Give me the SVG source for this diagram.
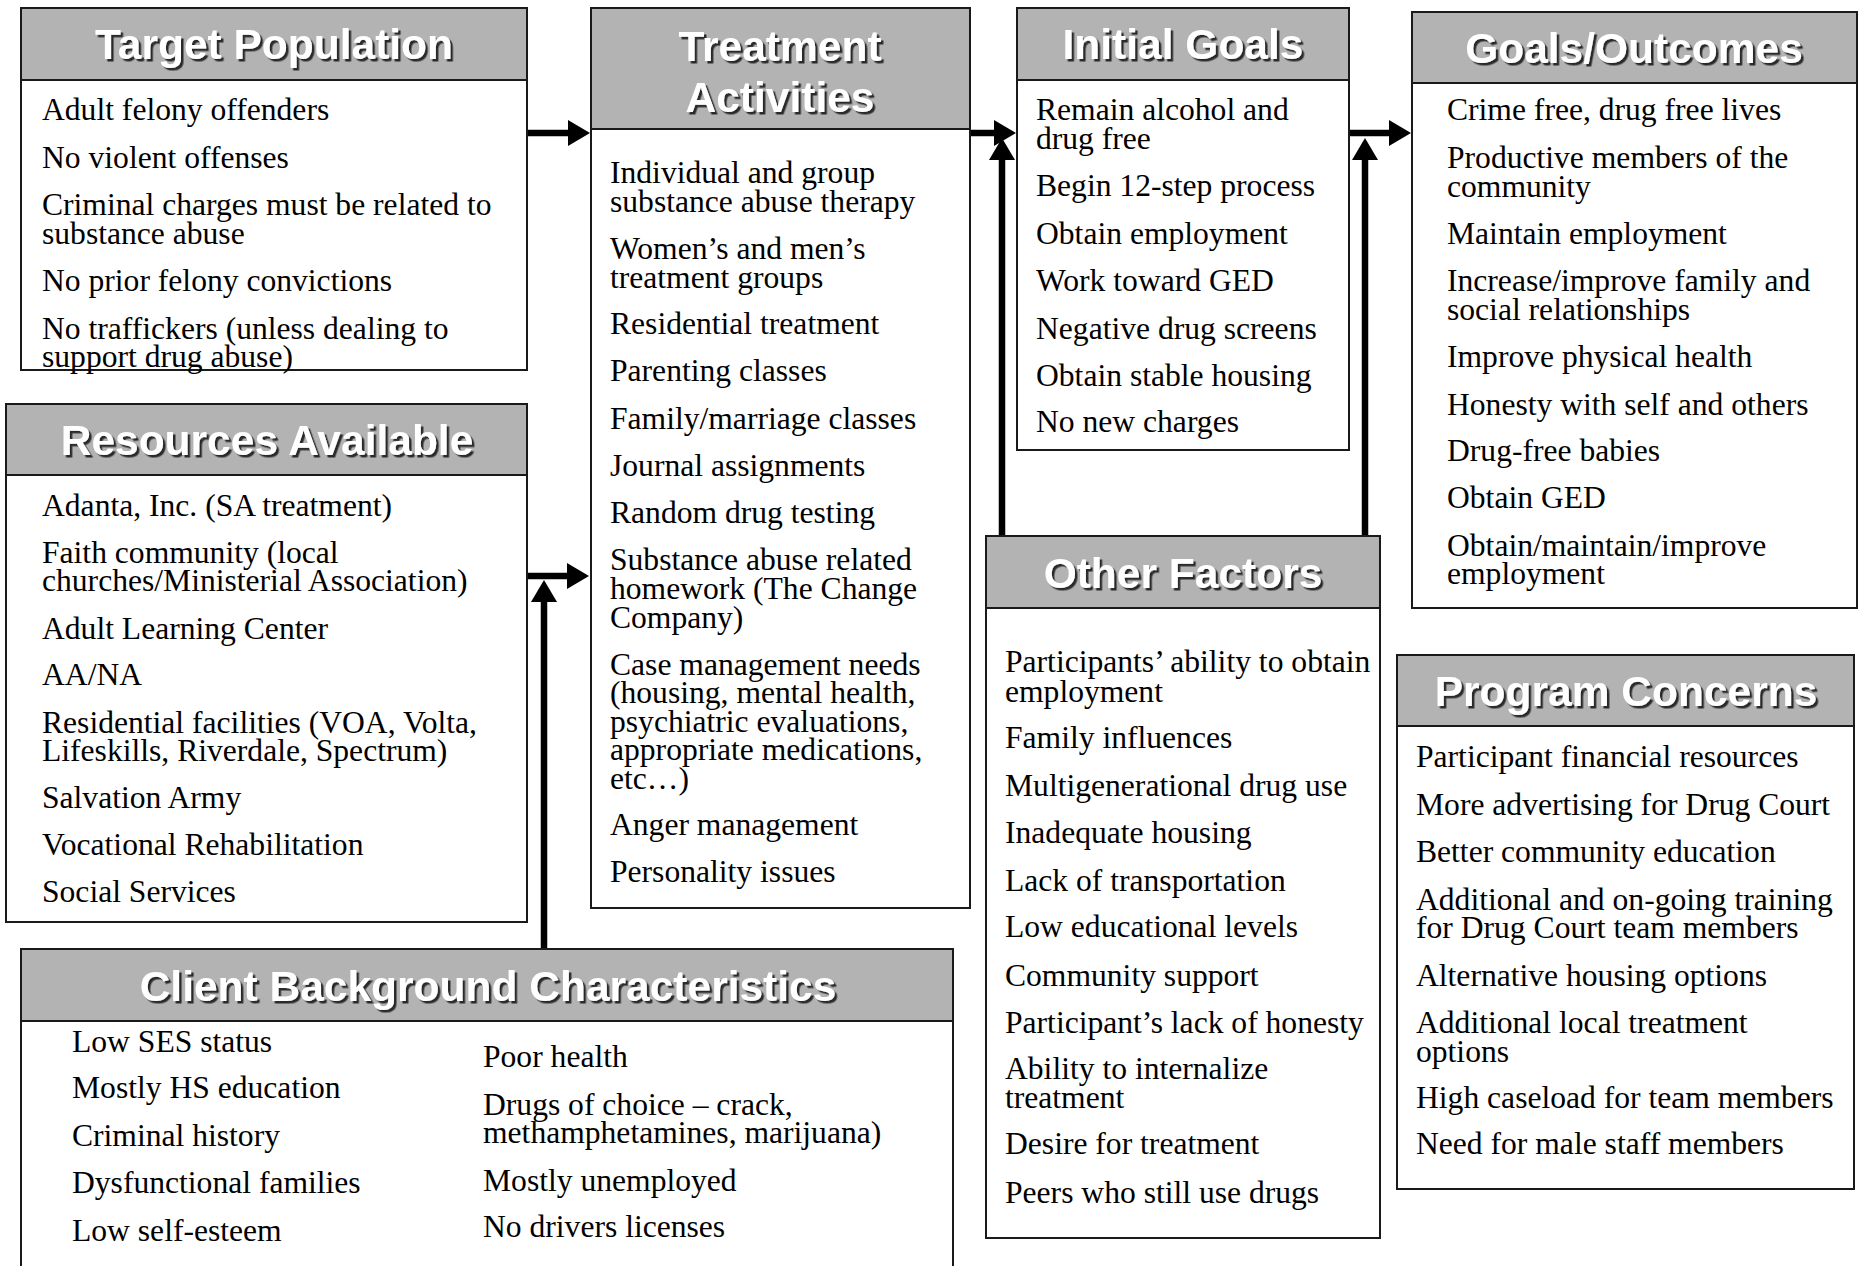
<svg xmlns="http://www.w3.org/2000/svg" width="1861" height="1266" viewBox="0 0 1861 1266">
<defs>
<style>
.box{fill:#fff;stroke:#1a1a1a;stroke-width:2}
.hdr{fill:#b3b3b3;stroke:#1a1a1a;stroke-width:2}
.ht{font-family:"Liberation Sans",Arial,sans-serif;font-weight:bold;font-size:42.5px;fill:#fff;text-anchor:middle;filter:url(#sh)}
.bt{font-family:"Liberation Serif","Times New Roman",serif;font-size:31.6px;fill:#000}
.con{fill:none;stroke:#000;stroke-width:6.5}
</style>
<filter id="sh" x="-5%" y="-20%" width="110%" height="140%">
<feDropShadow dx="2.5" dy="2.5" stdDeviation="0.4" flood-color="#2a2a2a" flood-opacity="1"/>
</filter>
<marker id="ah" viewBox="0 0 22 26" markerWidth="22" markerHeight="26" refX="2" refY="13" orient="auto" markerUnits="userSpaceOnUse">
<path d="M0,0 L22,13 L0,26 Z" fill="#000"/>
</marker>
</defs>
<rect width="1861" height="1266" fill="#fff"/>

<g id="connectors">
<path class="con" d="M527,133 H570" marker-end="url(#ah)"/>
<path class="con" d="M970,133 H996" marker-end="url(#ah)"/>
<path class="con" d="M1349,133 H1391" marker-end="url(#ah)"/>
<path class="con" d="M1002,536 V158" marker-end="url(#ah)"/>
<path class="con" d="M1365,536 V158" marker-end="url(#ah)"/>
<path class="con" d="M527,576 H569" marker-end="url(#ah)"/>
<path class="con" d="M544,949 V600" marker-end="url(#ah)"/>
</g>

<g id="target-population">
<rect class="box" x="21" y="8" width="506" height="362"/>
<rect class="hdr" x="21" y="8" width="506" height="72"/>
<text class="ht" x="274" y="59">Target Population</text>
<text class="bt" x="42" y="120">Adult felony offenders</text>
<text class="bt" x="42" y="168">No violent offenses</text>
<text class="bt" x="42" y="215">Criminal charges must be related to</text>
<text class="bt" x="42" y="244">substance abuse</text>
<text class="bt" x="42" y="291">No prior felony convictions</text>
<text class="bt" x="42" y="339">No traffickers (unless dealing to</text>
<text class="bt" x="42" y="367">support drug abuse)</text>
</g>

<g id="treatment-activities">
<rect class="box" x="591" y="8" width="379" height="900"/>
<rect class="hdr" x="591" y="8" width="379" height="121"/>
<text class="ht" x="780" y="61">Treatment</text>
<text class="ht" x="780" y="112">Activities</text>
<text class="bt" x="610" y="183">Individual and group</text>
<text class="bt" x="610" y="212">substance abuse therapy</text>
<text class="bt" x="610" y="259">Women’s and men’s</text>
<text class="bt" x="610" y="288">treatment groups</text>
<text class="bt" x="610" y="334">Residential treatment</text>
<text class="bt" x="610" y="381">Parenting classes</text>
<text class="bt" x="610" y="429">Family/marriage classes</text>
<text class="bt" x="610" y="476">Journal assignments</text>
<text class="bt" x="610" y="523">Random drug testing</text>
<text class="bt" x="610" y="570">Substance abuse related</text>
<text class="bt" x="610" y="599">homework (The Change</text>
<text class="bt" x="610" y="628">Company)</text>
<text class="bt" x="610" y="675">Case management needs</text>
<text class="bt" x="610" y="703">(housing, mental health,</text>
<text class="bt" x="610" y="732">psychiatric evaluations,</text>
<text class="bt" x="610" y="760">appropriate medications,</text>
<text class="bt" x="610" y="789">etc…)</text>
<text class="bt" x="610" y="835">Anger management</text>
<text class="bt" x="610" y="882">Personality issues</text>
</g>

<g id="initial-goals">
<rect class="box" x="1017" y="8" width="332" height="442"/>
<rect class="hdr" x="1017" y="8" width="332" height="72"/>
<text class="ht" x="1183" y="59">Initial Goals</text>
<text class="bt" x="1036" y="120">Remain alcohol and</text>
<text class="bt" x="1036" y="149">drug free</text>
<text class="bt" x="1036" y="196">Begin 12-step process</text>
<text class="bt" x="1036" y="244">Obtain employment</text>
<text class="bt" x="1036" y="291">Work toward GED</text>
<text class="bt" x="1036" y="339">Negative drug screens</text>
<text class="bt" x="1036" y="386">Obtain stable housing</text>
<text class="bt" x="1036" y="432">No new charges</text>
</g>

<g id="goals-outcomes">
<rect class="box" x="1412" y="12" width="445" height="596"/>
<rect class="hdr" x="1412" y="12" width="445" height="71"/>
<text class="ht" x="1634" y="63">Goals/Outcomes</text>
<text class="bt" x="1447" y="120">Crime free, drug free lives</text>
<text class="bt" x="1447" y="168">Productive members of the</text>
<text class="bt" x="1447" y="197">community</text>
<text class="bt" x="1447" y="244">Maintain employment</text>
<text class="bt" x="1447" y="291">Increase/improve family and</text>
<text class="bt" x="1447" y="320">social relationships</text>
<text class="bt" x="1447" y="367">Improve physical health</text>
<text class="bt" x="1447" y="415">Honesty with self and others</text>
<text class="bt" x="1447" y="461">Drug-free babies</text>
<text class="bt" x="1447" y="508">Obtain GED</text>
<text class="bt" x="1447" y="556">Obtain/maintain/improve</text>
<text class="bt" x="1447" y="584">employment</text>
</g>

<g id="resources-available">
<rect class="box" x="6" y="404" width="521" height="518"/>
<rect class="hdr" x="6" y="404" width="521" height="71"/>
<text class="ht" x="267" y="455">Resources Available</text>
<text class="bt" x="42" y="516">Adanta, Inc. (SA treatment)</text>
<text class="bt" x="42" y="563">Faith community (local</text>
<text class="bt" x="42" y="591">churches/Ministerial Association)</text>
<text class="bt" x="42" y="639">Adult Learning Center</text>
<text class="bt" x="42" y="685">AA/NA</text>
<text class="bt" x="42" y="733">Residential facilities (VOA, Volta,</text>
<text class="bt" x="42" y="761">Lifeskills, Riverdale, Spectrum)</text>
<text class="bt" x="42" y="808">Salvation Army</text>
<text class="bt" x="42" y="855">Vocational Rehabilitation</text>
<text class="bt" x="42" y="902">Social Services</text>
</g>

<g id="other-factors">
<rect class="box" x="986" y="536" width="394" height="702"/>
<rect class="hdr" x="986" y="536" width="394" height="72"/>
<text class="ht" x="1183" y="588">Other Factors</text>
<text class="bt" x="1005" y="672">Participants’ ability to obtain</text>
<text class="bt" x="1005" y="702">employment</text>
<text class="bt" x="1005" y="748">Family influences</text>
<text class="bt" x="1005" y="796">Multigenerational drug use</text>
<text class="bt" x="1005" y="843">Inadequate housing</text>
<text class="bt" x="1005" y="891">Lack of transportation</text>
<text class="bt" x="1005" y="937">Low educational levels</text>
<text class="bt" x="1005" y="986">Community support</text>
<text class="bt" x="1005" y="1033">Participant’s lack of honesty</text>
<text class="bt" x="1005" y="1079">Ability to internalize</text>
<text class="bt" x="1005" y="1108">treatment</text>
<text class="bt" x="1005" y="1154">Desire for treatment</text>
<text class="bt" x="1005" y="1203">Peers who still use drugs</text>
</g>

<g id="program-concerns">
<rect class="box" x="1397" y="655" width="457" height="534"/>
<rect class="hdr" x="1397" y="655" width="457" height="71"/>
<text class="ht" x="1626" y="706">Program Concerns</text>
<text class="bt" x="1416" y="767">Participant financial resources</text>
<text class="bt" x="1416" y="815">More advertising for Drug Court</text>
<text class="bt" x="1416" y="862">Better community education</text>
<text class="bt" x="1416" y="910">Additional and on-going training</text>
<text class="bt" x="1416" y="938">for Drug Court team members</text>
<text class="bt" x="1416" y="986">Alternative housing options</text>
<text class="bt" x="1416" y="1033">Additional local treatment</text>
<text class="bt" x="1416" y="1062">options</text>
<text class="bt" x="1416" y="1108">High caseload for team members</text>
<text class="bt" x="1416" y="1154">Need for male staff members</text>
</g>

<g id="client-background">
<rect class="box" x="21" y="949" width="932" height="340"/>
<rect class="hdr" x="21" y="949" width="932" height="72"/>
<text class="ht" x="488" y="1001">Client Background Characteristics</text>
<text class="bt" x="72" y="1052">Low SES status</text>
<text class="bt" x="72" y="1098">Mostly HS education</text>
<text class="bt" x="72" y="1146">Criminal history</text>
<text class="bt" x="72" y="1193">Dysfunctional families</text>
<text class="bt" x="72" y="1241">Low self-esteem</text>
<text class="bt" x="483" y="1067">Poor health</text>
<text class="bt" x="483" y="1115">Drugs of choice – crack,</text>
<text class="bt" x="483" y="1143">methamphetamines, marijuana)</text>
<text class="bt" x="483" y="1191">Mostly unemployed</text>
<text class="bt" x="483" y="1237">No drivers licenses</text>
</g>
</svg>
